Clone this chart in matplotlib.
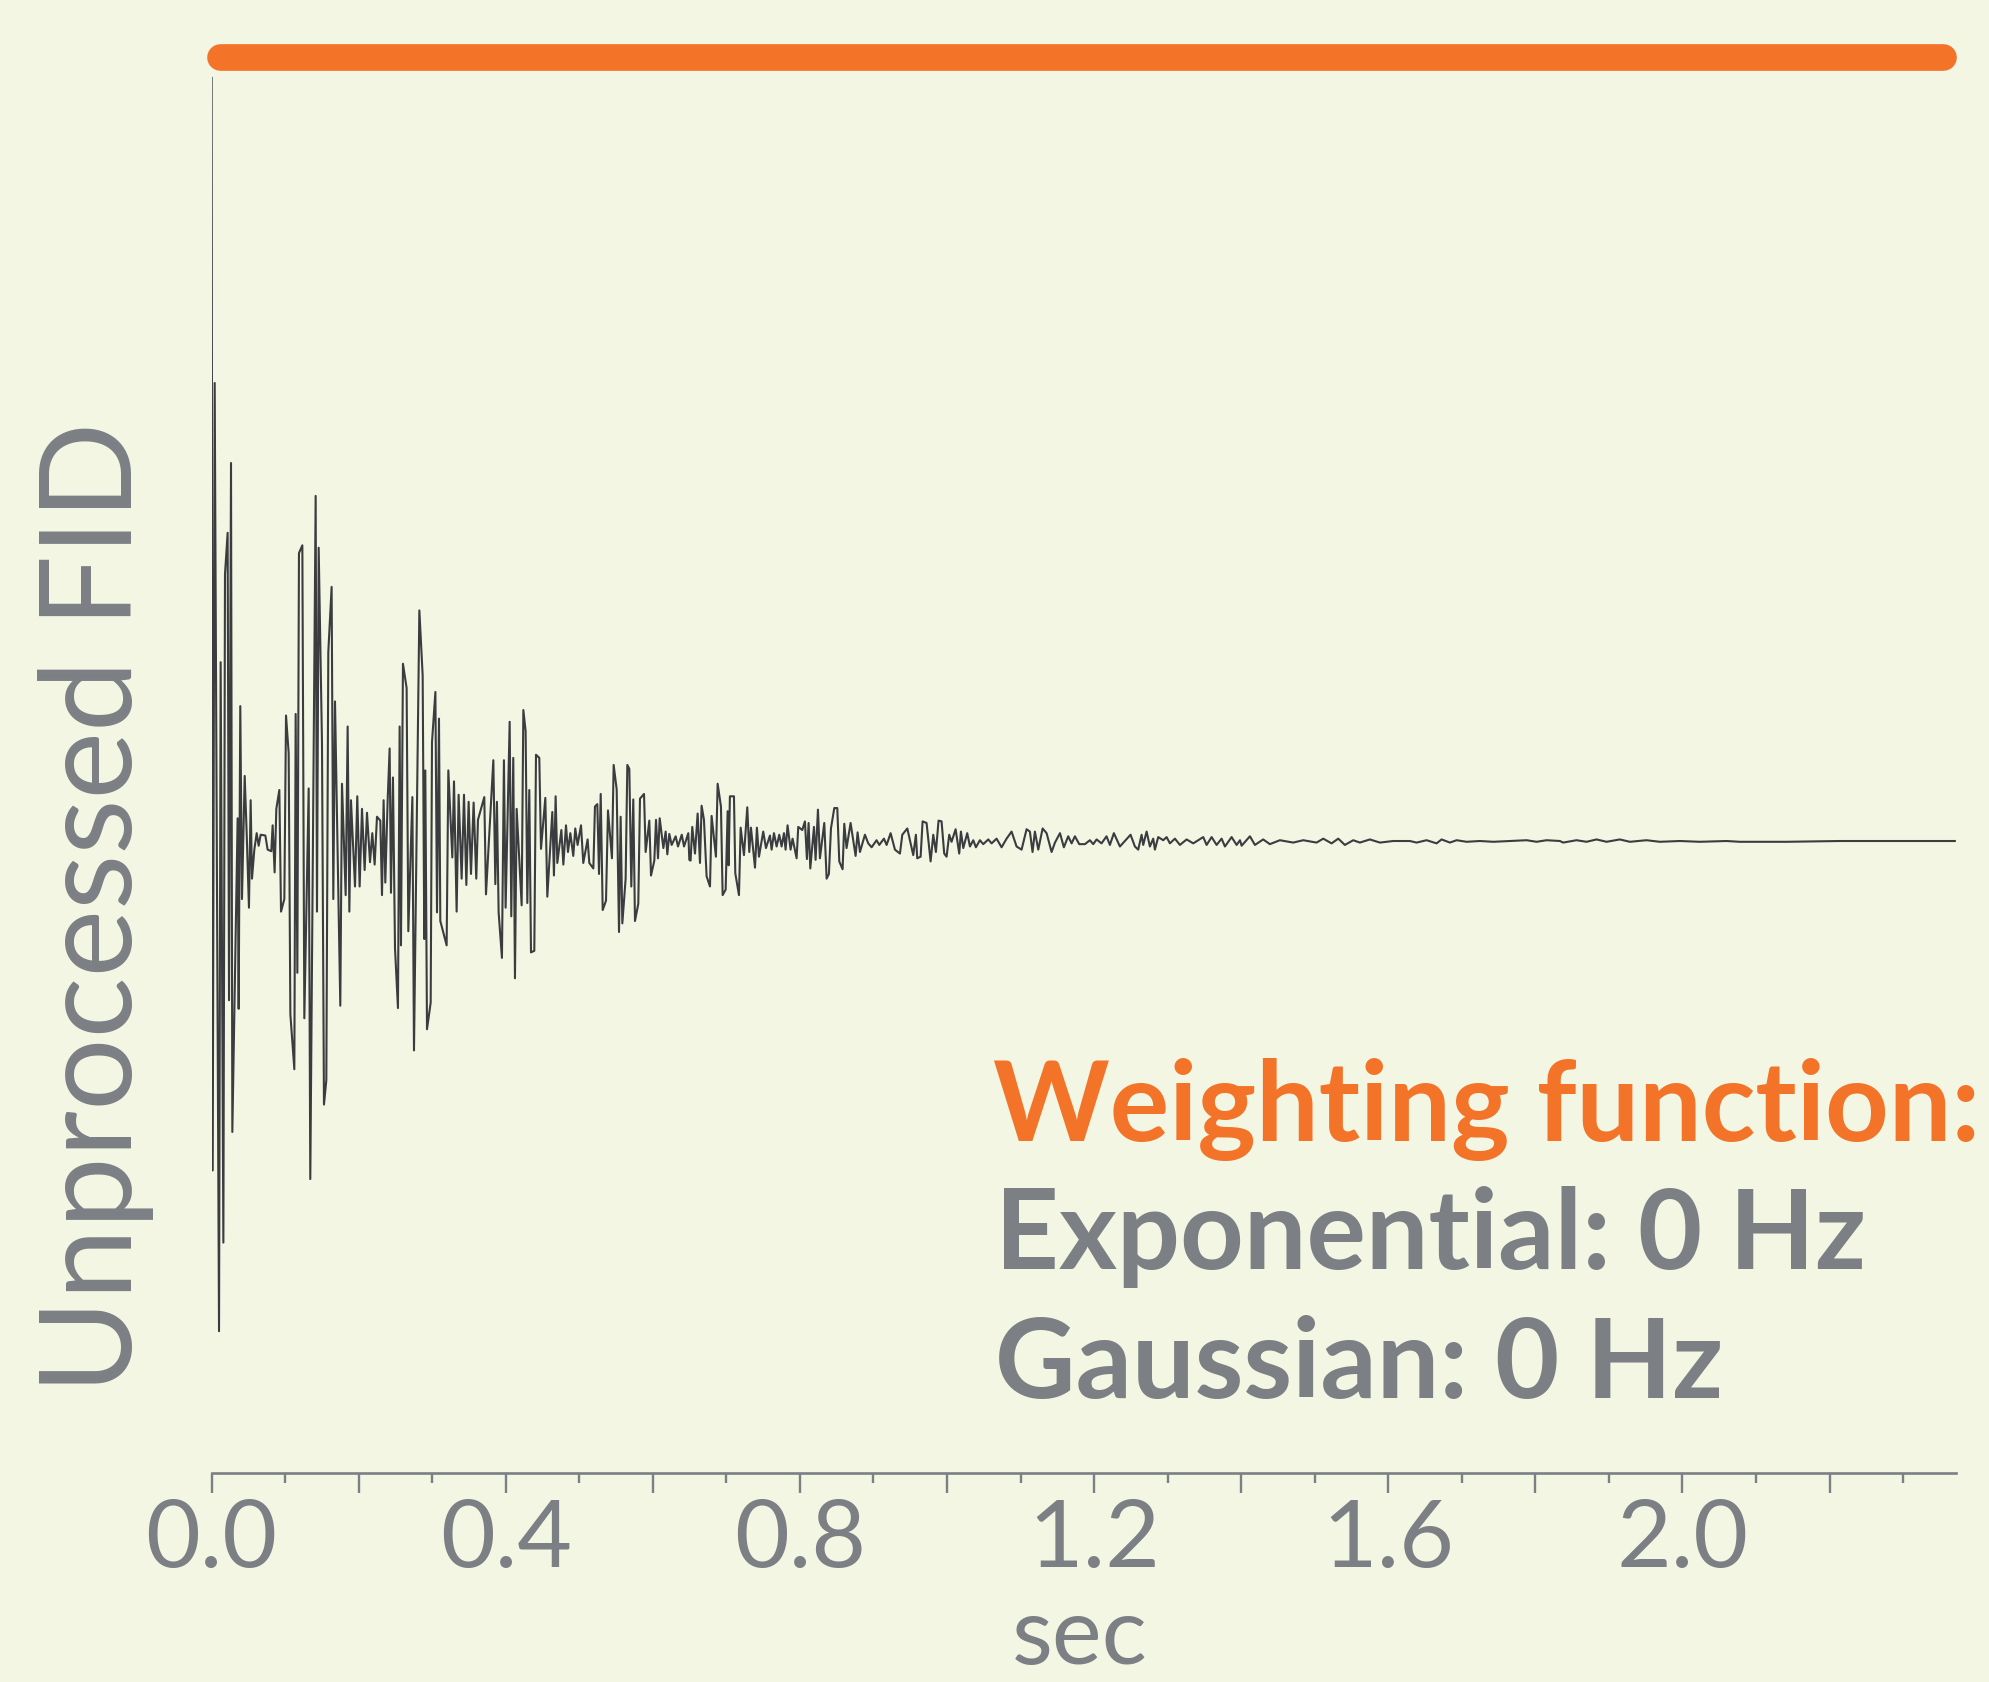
import numpy as np
import matplotlib
matplotlib.use("Agg")
import matplotlib.pyplot as plt

BG = "#f2f6e3"
ORANGE = "#f37329"
GRAY = "#7c7f84"
INK = "#3b3c40"

# FID: time (sec) and amplitude (weighting level = 1)
fid_time = [
    0.0000, 0.0015, 0.0042, 0.0101, 0.0123, 0.0160, 0.0182, 0.0218, 0.0237, 0.0264,
    0.0282, 0.0354, 0.0368, 0.0390, 0.0413, 0.0450, 0.0477, 0.0508, 0.0531, 0.0549,
    0.0581, 0.0613, 0.0640, 0.0667, 0.0731, 0.0762, 0.0812, 0.0830, 0.0857, 0.0880,
    0.0921, 0.0944, 0.0989, 0.1012, 0.1048, 0.1071, 0.1125, 0.1143, 0.1166, 0.1188,
    0.1234, 0.1261, 0.1320, 0.1342, 0.1415, 0.1433, 0.1456, 0.1501, 0.1528, 0.1560,
    0.1587, 0.1632, 0.1655, 0.1678, 0.1750, 0.1773, 0.1823, 0.1850, 0.1873, 0.1895,
    0.1950, 0.1981, 0.2013, 0.2045, 0.2081, 0.2113, 0.2154, 0.2185, 0.2217, 0.2249,
    0.2294, 0.2317, 0.2339, 0.2362, 0.2394, 0.2421, 0.2439, 0.2466, 0.2494, 0.2534,
    0.2557, 0.2575, 0.2602, 0.2652, 0.2675, 0.2730, 0.2752, 0.2825, 0.2870, 0.2892,
    0.2906, 0.2929, 0.2979, 0.2997, 0.3043, 0.3065, 0.3092, 0.3110, 0.3196, 0.3219,
    0.3273, 0.3296, 0.3332, 0.3359, 0.3400, 0.3432, 0.3464, 0.3495, 0.3527, 0.3563,
    0.3599, 0.3622, 0.3708, 0.3731, 0.3831, 0.3858, 0.3880, 0.3903, 0.3948, 0.3975,
    0.3998, 0.4053, 0.4075, 0.4102, 0.4125, 0.4148, 0.4216, 0.4239, 0.4270, 0.4293,
    0.4320, 0.4343, 0.4388, 0.4411, 0.4456, 0.4479, 0.4538, 0.4565, 0.4633, 0.4655,
    0.4678, 0.4701, 0.4756, 0.4783, 0.4819, 0.4846, 0.4878, 0.4918, 0.4945, 0.4977,
    0.5023, 0.5054, 0.5113, 0.5136, 0.5191, 0.5213, 0.5245, 0.5268, 0.5291, 0.5318,
    0.5363, 0.5390, 0.5444, 0.5467, 0.5508, 0.5540, 0.5562, 0.5585, 0.5630, 0.5653,
    0.5680, 0.5707, 0.5734, 0.5757, 0.5802, 0.5825, 0.5880, 0.5902, 0.5952, 0.5975,
    0.6020, 0.6043, 0.6070, 0.6093, 0.6143, 0.6174, 0.6197, 0.6224, 0.6256, 0.6310,
    0.6342, 0.6393, 0.6424, 0.6482, 0.6496, 0.6513, 0.6536, 0.6573, 0.6609, 0.6641,
    0.6663, 0.6695, 0.6731, 0.6777, 0.6799, 0.6858, 0.6881, 0.6926, 0.6949, 0.6990,
    0.7017, 0.7030, 0.7048, 0.7103, 0.7121, 0.7171, 0.7194, 0.7239, 0.7284, 0.7311,
    0.7334, 0.7389, 0.7415, 0.7443, 0.7501, 0.7538, 0.7592, 0.7615, 0.7647, 0.7683,
    0.7719, 0.7751, 0.7783, 0.7805, 0.7832, 0.7873, 0.7900, 0.7955, 0.7977, 0.8032,
    0.8068, 0.8095, 0.8118, 0.8141, 0.8191, 0.8213, 0.8245, 0.8272, 0.8331, 0.8363,
    0.8394, 0.8422, 0.8467, 0.8508, 0.8535, 0.8580, 0.8603, 0.8634, 0.8689, 0.8757,
    0.8784, 0.8816, 0.8884, 0.8929, 0.8975, 0.9042, 0.9079, 0.9142, 0.9179, 0.9233,
    0.9292, 0.9360, 0.9392, 0.9460, 0.9541, 0.9577, 0.9595, 0.9641, 0.9668, 0.9722,
    0.9777, 0.9813, 0.9849, 0.9885, 0.9926, 0.9962, 0.9994, 1.0030, 1.0062, 1.0117,
    1.0166, 1.0189, 1.0221, 1.0275, 1.0312, 1.0357, 1.0393, 1.0447, 1.0493, 1.0561,
    1.0606, 1.0674, 1.0742, 1.0810, 1.0878, 1.0946, 1.1014, 1.1082, 1.1127, 1.1163,
    1.1195, 1.1241, 1.1300, 1.1354, 1.1422, 1.1468, 1.1536, 1.1589, 1.1648, 1.1694,
    1.1739, 1.1798, 1.1875, 1.1943, 1.1988, 1.2034, 1.2101, 1.2169, 1.2215, 1.2269,
    1.2351, 1.2496, 1.2555, 1.2600, 1.2646, 1.2668, 1.2714, 1.2759, 1.2804, 1.2827,
    1.2872, 1.2940, 1.2986, 1.3031, 1.3099, 1.3167, 1.3258, 1.3348, 1.3484, 1.3530,
    1.3598, 1.3666, 1.3734, 1.3779, 1.3870, 1.3938, 1.3984, 1.4006, 1.4119, 1.4187,
    1.4299, 1.4390, 1.4526, 1.4708, 1.4844, 1.5025, 1.5116, 1.5229, 1.5320, 1.5410,
    1.5524, 1.5614, 1.5750, 1.5886, 1.6067, 1.6294, 1.6385, 1.6521, 1.6657, 1.6725,
    1.6838, 1.6929, 1.7065, 1.7246, 1.7428, 1.7881, 1.8017, 1.8153, 1.8334, 1.8378,
    1.8560, 1.8696, 1.8832, 1.8968, 1.9149, 1.9285, 1.9511, 1.9693, 1.9965, 2.0237,
    2.0600, 2.0780, 2.1415, 2.2140, 2.2593, 2.3046, 2.3704,
]
fid_signal = [
    0.973, -0.420, 0.584, -0.625, 0.228, -0.512, 0.340, 0.393, -0.203, 0.482,
    -0.371, 0.029, -0.214, 0.172, -0.074, 0.083, 0.010, -0.085, 0.052, -0.048,
    -0.011, 0.010, -0.006, 0.008, 0.007, -0.011, -0.013, 0.020, -0.040, 0.041,
    0.065, -0.090, -0.074, 0.160, 0.112, -0.221, -0.291, 0.162, -0.168, 0.367,
    0.377, -0.226, 0.067, -0.431, 0.440, -0.090, 0.374, 0.125, -0.336, -0.305,
    0.241, 0.324, -0.074, 0.178, -0.210, 0.073, -0.069, 0.146, -0.090, 0.052,
    -0.058, 0.057, -0.058, 0.041, -0.037, 0.036, -0.027, 0.010, -0.030, 0.031,
    0.026, -0.069, 0.052, -0.053, 0.052, 0.118, -0.066, 0.081, -0.137, -0.213,
    0.146, -0.133, 0.226, 0.195, -0.115, 0.056, -0.267, 0.294, 0.211, -0.125,
    0.090, -0.240, -0.206, 0.126, 0.190, -0.091, 0.156, -0.102, -0.133, 0.090,
    -0.021, 0.076, -0.090, 0.059, -0.048, 0.059, -0.056, 0.050, -0.042, 0.049,
    -0.048, 0.027, 0.056, -0.068, 0.103, -0.055, 0.050, -0.091, -0.149, 0.103,
    -0.085, 0.152, -0.096, 0.106, -0.175, 0.041, -0.082, 0.167, 0.140, -0.079,
    0.065, -0.142, -0.140, 0.110, 0.106, -0.010, 0.055, -0.071, 0.037, -0.044,
    0.057, -0.028, 0.014, -0.030, 0.020, -0.014, 0.010, -0.019, 0.016, -0.005,
    0.020, -0.028, 0.002, -0.028, -0.035, 0.044, 0.047, -0.042, 0.060, -0.088,
    -0.076, 0.039, -0.022, 0.097, 0.066, -0.116, 0.031, -0.105, -0.048, 0.097,
    0.092, -0.058, 0.053, -0.102, -0.080, 0.054, 0.060, -0.014, 0.026, -0.044,
    -0.025, 0.027, -0.022, 0.029, -0.009, 0.012, -0.017, 0.009, -0.005, 0.006,
    -0.007, 0.008, -0.007, 0.010, -0.024, -0.025, 0.018, -0.016, 0.035, -0.028,
    0.045, 0.027, -0.045, -0.058, 0.032, -0.020, 0.073, 0.044, -0.069, -0.062,
    0.038, -0.031, 0.057, 0.057, -0.041, -0.069, 0.017, -0.018, 0.043, -0.014,
    0.017, -0.034, 0.017, -0.020, 0.012, -0.009, 0.007, -0.011, 0.010, -0.007,
    0.008, -0.007, 0.010, -0.011, 0.020, -0.011, 0.003, -0.022, 0.018, 0.014,
    0.025, -0.023, 0.023, -0.035, 0.018, -0.024, 0.040, -0.022, 0.023, -0.048,
    -0.042, 0.016, 0.042, 0.042, -0.026, -0.036, 0.022, -0.009, 0.023, -0.019,
    0.011, -0.014, 0.008, -0.003, -0.008, 0.001, -0.005, 0.003, -0.005, 0.010,
    -0.011, -0.016, 0.008, 0.016, -0.018, 0.008, -0.022, -0.020, 0.025, 0.023,
    -0.026, 0.008, -0.014, 0.026, 0.025, -0.016, -0.020, 0.008, -0.001, 0.015,
    -0.016, 0.012, -0.009, 0.010, -0.007, 0.001, -0.008, 0.001, -0.004, 0.002,
    -0.003, 0.003, -0.008, 0.003, 0.012, -0.007, -0.011, 0.015, 0.012, -0.014,
    0.012, -0.011, 0.016, 0.010, -0.014, -0.002, 0.010, -0.008, 0.006, -0.003,
    0.006, -0.004, -0.004, 0.001, -0.004, 0.002, -0.003, 0.006, -0.005, 0.010,
    -0.007, 0.008, -0.007, -0.011, 0.008, -0.005, 0.012, -0.007, 0.003, -0.011,
    0.005, 0.001, 0.005, -0.003, 0.003, -0.005, 0.002, -0.003, 0.005, -0.005,
    0.005, -0.005, 0.003, -0.007, 0.005, -0.005, 0.001, -0.006, 0.006, -0.005,
    0.002, -0.004, 0.001, -0.002, 0.001, -0.002, 0.003, -0.003, 0.003, -0.005,
    0.001, -0.002, 0.002, -0.002, 0.000, 0.000, -0.002, 0.001, -0.003, 0.002,
    -0.002, 0.001, -0.001, 0.000, -0.001, 0.001, -0.001, 0.001, 0.000, -0.002,
    0.001, -0.001, 0.002, -0.001, 0.002, -0.001, 0.001, -0.001, 0.000, -0.001,
    0.000, -0.001, -0.001, 0.000, 0.000, 0.000, 0.000,
]

# weighting function: no apodisation -> flat at 1
weight_time = [0.0115, 2.354]
weight_value = [1.0, 1.0]

major_ticks = [0.0, 0.2, 0.4, 0.6, 0.8, 1.0, 1.2, 1.4, 1.6, 1.8, 2.0, 2.2]
major_labels = ["0.0", "", "0.4", "", "0.8", "", "1.2", "", "1.6", "", "2.0", ""]
minor_ticks = [0.1, 0.3, 0.5, 0.7, 0.9, 1.1, 1.3, 1.5, 1.7, 1.9, 2.1, 2.3]

title_text = "Weighting function:"
param_lines = ["Exponential: 0 Hz", "Gaussian: 0 Hz"]

plt.rcParams.update({
    "font.family": ["Lato", "DejaVu Sans"],
    "figure.facecolor": BG,
    "savefig.facecolor": BG,
    "axes.facecolor": BG,
})

W, H = 1990, 1682
fig = plt.figure(figsize=(W / 100, H / 100), dpi=100)
ax = fig.add_axes([211.6 / W, 1 - 1473 / H, (1956 - 211.6) / W, (1473 - 20) / H])

ax.plot(weight_time, weight_value, color=ORANGE, lw=19.2,
        solid_capstyle="round", clip_on=False, zorder=3)
ax.plot(fid_time, fid_signal, color=INK, lw=1.5, zorder=2)

ax.set_xlim(0, 2.372)
ax.set_ylim(-0.8058, 1.0468)

for side in ["left", "right", "top"]:
    ax.spines[side].set_visible(False)
ax.spines["bottom"].set_color(GRAY)
ax.spines["bottom"].set_linewidth(1.9)
ax.set_yticks([])

ax.set_xticks(major_ticks)
ax.set_xticklabels(major_labels)
ax.set_xticks(minor_ticks, minor=True)
ax.tick_params(axis="x", which="major", length=14.4, width=1.7, color=GRAY,
               labelcolor=GRAY, labelsize=68, pad=4)
ax.tick_params(axis="x", which="minor", length=7.2, width=1.7, color=GRAY)

# axis titles
fig.text(1080 / W, 2 / H, "sec", ha="center", va="bottom",
         fontsize=68, color=GRAY)
fig.text(131.7 / W, 1 - 907 / H, "Unprocessed FID", rotation=90,
         rotation_mode="anchor", ha="center", va="baseline",
         fontsize=92, color=GRAY)

# annotation block
fig.text(993 / W, 1 - 1141 / H, title_text, ha="left", va="baseline",
         fontsize=80, fontweight="bold", color=ORANGE)
for i, line in enumerate(param_lines):
    y_px = [1269, 1398][i]
    fig.text(995 / W, 1 - y_px / H, line, ha="left", va="baseline",
             fontsize=80, fontweight="bold", color=GRAY)

fig.savefig("out.png", dpi=100)
